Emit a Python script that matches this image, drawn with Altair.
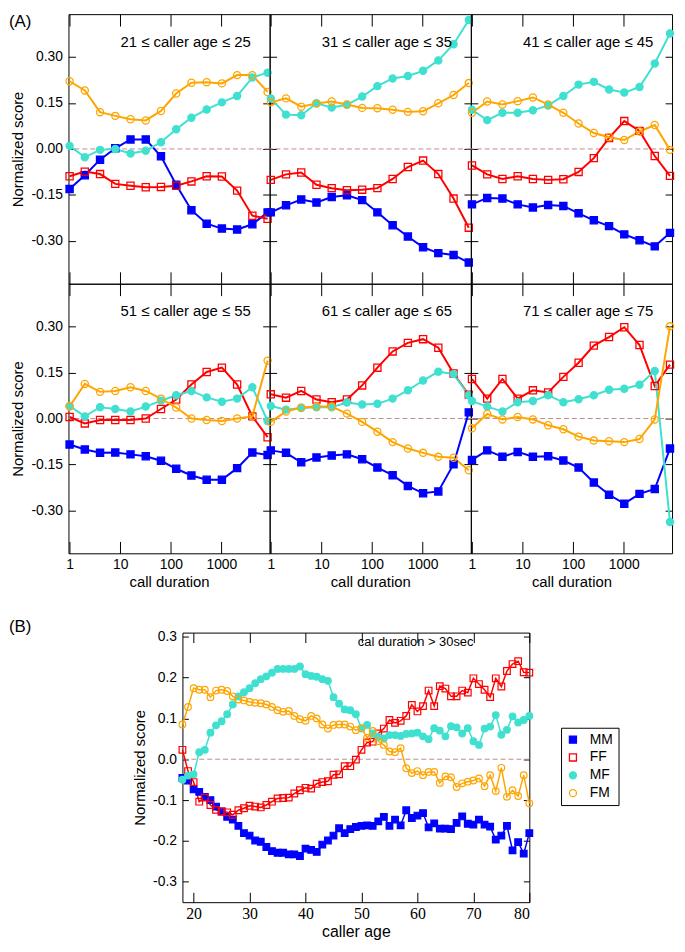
import altair as alt
import pandas as pd

# ---------------- data: part (A) ----------------
durations = [1, 2, 4, 8, 16, 32, 64, 128, 256, 512, 1024, 2048, 4096, 8192]
duration_ticks = [1, 10, 100, 1000]
score_ticks_A = [-0.30, -0.15, 0.0, 0.15, 0.30]
series_types = ["MM", "FF", "MF", "FM"]

panel_titles = [
    "21 \u2264 caller age \u2264 25",
    "31 \u2264 caller age \u2264 35",
    "41 \u2264 caller age \u2264 45",
    "51 \u2264 caller age \u2264 55",
    "61 \u2264 caller age \u2264 65",
    "71 \u2264 caller age \u2264 75",
]

a1_MM = [-0.131, -0.086, -0.035, 0.002, 0.031, 0.031, -0.024, -0.117, -0.200, -0.244, -0.260, -0.263, -0.246, -0.207]
a1_FF = [-0.089, -0.074, -0.082, -0.114, -0.120, -0.125, -0.124, -0.120, -0.106, -0.089, -0.090, -0.136, -0.218, -0.228]
a1_MF = [0.010, -0.027, -0.003, 0.000, -0.015, -0.006, 0.022, 0.064, 0.102, 0.129, 0.152, 0.173, 0.233, 0.249]
a1_FM = [0.221, 0.191, 0.120, 0.108, 0.097, 0.093, 0.124, 0.181, 0.216, 0.218, 0.214, 0.241, 0.241, 0.186]

a2_MM = [-0.207, -0.184, -0.165, -0.175, -0.157, -0.151, -0.167, -0.207, -0.249, -0.286, -0.321, -0.340, -0.346, -0.371]
a2_FF = [-0.101, -0.083, -0.077, -0.117, -0.128, -0.135, -0.133, -0.128, -0.098, -0.059, -0.038, -0.082, -0.162, -0.257]
a2_MF = [0.165, 0.112, 0.110, 0.149, 0.135, 0.144, 0.171, 0.205, 0.230, 0.238, 0.255, 0.289, 0.342, 0.421]
a2_FM = [0.152, 0.165, 0.138, 0.148, 0.155, 0.145, 0.134, 0.133, 0.128, 0.121, 0.123, 0.149, 0.176, 0.215]

a3_MM = [-0.181, -0.160, -0.162, -0.181, -0.191, -0.183, -0.186, -0.210, -0.233, -0.252, -0.279, -0.298, -0.318, -0.274]
a3_FF = [-0.054, -0.083, -0.098, -0.089, -0.098, -0.101, -0.099, -0.075, -0.030, 0.036, 0.091, 0.059, -0.023, -0.088]
a3_MF = [0.128, 0.094, 0.118, 0.118, 0.126, 0.142, 0.173, 0.210, 0.219, 0.194, 0.184, 0.202, 0.279, 0.377]
a3_FM = [0.118, 0.155, 0.145, 0.156, 0.168, 0.145, 0.118, 0.083, 0.052, 0.038, 0.029, 0.057, 0.078, -0.003]

a4_MM = [-0.085, -0.101, -0.112, -0.111, -0.117, -0.123, -0.138, -0.164, -0.186, -0.200, -0.200, -0.162, -0.111, -0.119]
a4_FF = [0.005, -0.016, -0.005, -0.005, -0.005, 0.000, 0.031, 0.062, 0.111, 0.152, 0.166, 0.111, 0.007, -0.061]
a4_MF = [0.041, 0.007, 0.037, 0.031, 0.023, 0.039, 0.058, 0.076, 0.090, 0.069, 0.055, 0.065, 0.102, -0.008]
a4_FM = [0.039, 0.113, 0.087, 0.090, 0.102, 0.090, 0.065, 0.036, 0.000, -0.005, -0.008, 0.000, 0.007, 0.189]

a5_MM = [-0.104, -0.112, -0.143, -0.127, -0.121, -0.117, -0.133, -0.160, -0.185, -0.220, -0.244, -0.238, -0.149, 0.020]
a5_FF = [0.079, 0.068, 0.090, 0.062, 0.053, 0.062, 0.108, 0.166, 0.219, 0.247, 0.259, 0.231, 0.147, 0.078]
a5_MF = [0.041, 0.029, 0.034, 0.037, 0.037, 0.052, 0.046, 0.048, 0.065, 0.092, 0.124, 0.153, 0.145, 0.076]
a5_FM = [-0.011, 0.023, 0.036, 0.039, 0.039, 0.016, -0.011, -0.043, -0.077, -0.098, -0.112, -0.125, -0.128, -0.169]

a6_MM = [-0.135, -0.104, -0.125, -0.109, -0.125, -0.123, -0.137, -0.160, -0.209, -0.249, -0.278, -0.246, -0.230, -0.098]
a6_FF = [0.129, 0.065, 0.129, 0.065, 0.092, 0.085, 0.136, 0.182, 0.238, 0.266, 0.298, 0.240, 0.106, 0.176]
a6_MF = [0.057, 0.039, 0.023, 0.053, 0.057, 0.076, 0.053, 0.063, 0.076, 0.094, 0.097, 0.110, 0.155, -0.338]
a6_FM = [-0.032, 0.015, -0.003, 0.005, -0.003, -0.022, -0.035, -0.059, -0.072, -0.074, -0.077, -0.067, -0.003, 0.301]

# ---------------- data: part (B) ----------------
ages = list(range(18, 81))
age_ticks = [20, 30, 40, 50, 60, 70, 80]
score_ticks_B = [-0.3, -0.2, -0.1, 0.0, 0.1, 0.2, 0.3]

b_MM = [-0.046, -0.052, -0.074, -0.080, -0.092, -0.100, -0.116, -0.128, -0.141, -0.148,
        -0.163, -0.181, -0.187, -0.199, -0.202, -0.215, -0.225, -0.229, -0.229, -0.233,
        -0.233, -0.237, -0.219, -0.222, -0.227, -0.209, -0.199, -0.187, -0.169, -0.181,
        -0.171, -0.166, -0.163, -0.162, -0.163, -0.152, -0.141, -0.163, -0.148, -0.162,
        -0.125, -0.144, -0.138, -0.132, -0.167, -0.157, -0.170, -0.170, -0.171, -0.156,
        -0.140, -0.158, -0.160, -0.148, -0.160, -0.165, -0.197, -0.187, -0.163, -0.223,
        -0.203, -0.231, -0.181]
b_FF = [0.023, -0.029, -0.056, -0.104, -0.094, -0.112, -0.124, -0.128, -0.130, -0.136,
        -0.125, -0.120, -0.114, -0.116, -0.118, -0.112, -0.104, -0.096, -0.095, -0.094,
        -0.084, -0.076, -0.070, -0.072, -0.060, -0.056, -0.054, -0.038, -0.037, -0.017,
        -0.017, -0.001, 0.023, 0.041, 0.043, 0.063, 0.075, 0.096, 0.089, 0.094,
        0.106, 0.133, 0.117, 0.130, 0.168, 0.130, 0.179, 0.173, 0.154, 0.154,
        0.168, 0.163, 0.198, 0.184, 0.170, 0.152, 0.198, 0.178, 0.216, 0.233,
        0.240, 0.213, 0.212]
b_MF = [-0.050, -0.040, -0.037, 0.017, 0.023, 0.065, 0.083, 0.093, 0.110, 0.134,
        0.154, 0.164, 0.174, 0.186, 0.196, 0.203, 0.212, 0.221, 0.221, 0.221,
        0.221, 0.227, 0.208, 0.204, 0.202, 0.196, 0.192, 0.152, 0.136, 0.122,
        0.120, 0.110, 0.075, 0.084, 0.063, 0.055, 0.051, 0.059, 0.059, 0.057,
        0.062, 0.063, 0.065, 0.056, 0.049, 0.076, 0.070, 0.056, 0.081, 0.078,
        0.063, 0.076, 0.044, 0.035, 0.075, 0.080, 0.108, 0.060, 0.072, 0.105,
        0.090, 0.096, 0.106]
b_FM = [0.085, 0.128, 0.174, 0.170, 0.170, 0.152, 0.168, 0.170, 0.167, 0.154,
        0.146, 0.144, 0.140, 0.138, 0.137, 0.134, 0.128, 0.120, 0.116, 0.118,
        0.106, 0.098, 0.094, 0.106, 0.100, 0.085, 0.075, 0.084, 0.085, 0.085,
        0.080, 0.071, 0.076, 0.052, 0.069, 0.044, 0.035, 0.019, 0.017, 0.027,
        -0.022, -0.034, -0.029, -0.039, -0.031, -0.031, -0.058, -0.042, -0.044, -0.068,
        -0.059, -0.055, -0.052, -0.047, -0.066, -0.039, -0.078, -0.021, -0.092, -0.076,
        -0.090, -0.039, -0.108]

# ---------------- styles ----------------
COLORS = ["#0000ff", "#ff0000", "#40e0d0", "#ffa500"]
FILLS = ["#0000ff", "transparent", "#40e0d0", "transparent"]
SHAPES = ["square", "square", "circle", "circle"]
ZERO_COLOR = "#c48b8b"
SANS = "Liberation Sans"
SERIF = "Liberation Serif"

A_W, A_H = 203, 272
B_W, B_H = 350, 272
NBSP = "\u00a0"


def long_df(xs, xname, arrays):
    rows = []
    for t, arr in zip(series_types, arrays):
        for x, v in zip(xs, arr):
            rows.append({xname: x, "type": t, "value": v})
    return pd.DataFrame(rows)


# line colours use the reversed domain so their (hidden) legend never merges
line_color_scale = alt.Scale(domain=series_types[::-1], range=COLORS[::-1])
color_scale = alt.Scale(domain=series_types, range=COLORS)
fill_scale = alt.Scale(domain=series_types, range=FILLS)
shape_scale = alt.Scale(domain=series_types, range=SHAPES)

labA = "datum.value < 0 ? '-' + format(-datum.value, '.2f') : format(datum.value, '.2f')"
labB = "datum.value < 0 ? '-' + format(-datum.value, '.1f') : format(datum.value, '.1f')"


def make_panel(idx, arrays):
    row, col = idx // 3, idx % 3
    df = long_df(durations, "dur", arrays)
    xs = alt.Scale(type="log", domain=[0.95, 9000], nice=False)
    ys = alt.Scale(domain=[-0.44, 0.44], nice=False, zero=False)

    ax_bottom = alt.Axis(orient="bottom", values=duration_ticks, format="d",
                         labels=(row == 1), title=("call duration" if row == 1 else None),
                         tickSize=12, offset=-12, domain=False, labelPadding=4,
                         titlePadding=3, labelFontSize=14, titleFontSize=15,
                         minExtent=0)
    ax_left = alt.Axis(orient="left", values=score_ticks_A, labelExpr=labA,
                       labels=(col == 0), title=("Normalized score" if col == 0 else None),
                       tickSize=7, offset=-7, domain=False, labelPadding=6,
                       titlePadding=5, labelFontSize=14, titleFontSize=15, minExtent=0)
    ax_top = alt.Axis(orient="top", values=duration_ticks, labels=False, title=None,
                      tickSize=12, offset=-12, domain=False, minExtent=0)
    ax_right = alt.Axis(orient="right", values=score_ticks_A, labels=False, title=None,
                        tickSize=7, offset=-7, domain=False, minExtent=0)

    zero = alt.Chart(pd.DataFrame({"z": [0.0]})).mark_rule(
        color=ZERO_COLOR, strokeDash=[5, 3], strokeWidth=1
    ).encode(y=alt.Y("z:Q", scale=ys, axis=None))

    base = alt.Chart(df)
    lines = base.mark_line(strokeWidth=2).encode(
        x=alt.X("dur:Q", scale=xs, axis=ax_bottom),
        y=alt.Y("value:Q", scale=ys, axis=ax_left),
        color=alt.Color("type:N", scale=line_color_scale, legend=None),
    )
    points = base.mark_point(opacity=1, size=52, strokeWidth=1.3).encode(
        x=alt.X("dur:Q", scale=xs, axis=ax_top),
        y=alt.Y("value:Q", scale=ys, axis=ax_right),
        shape=alt.Shape("type:N", scale=shape_scale, legend=None),
        stroke=alt.Stroke("type:N", scale=color_scale, legend=None),
        fill=alt.Fill("type:N", scale=fill_scale, legend=None),
    )
    title = alt.Chart(pd.DataFrame({"t": [panel_titles[idx]]})).mark_text(
        align="right", baseline="middle", fontSize=15, font=SANS, color="black"
    ).encode(text="t:N", x=alt.value(184), y=alt.value(28))

    layers = [zero, lines, points, title]
    if idx == 0:
        tag = alt.Chart(pd.DataFrame({"t": ["(A)"]})).mark_text(
            align="left", baseline="middle", fontSize=17, font=SANS, color="black"
        ).encode(text="t:N", x=alt.value(-60), y=alt.value(8))
        layers.append(tag)

    return alt.layer(*layers).resolve_axis(x="independent", y="independent").properties(
        width=A_W, height=A_H
    )


panel_data = [
    [a1_MM, a1_FF, a1_MF, a1_FM],
    [a2_MM, a2_FF, a2_MF, a2_FM],
    [a3_MM, a3_FF, a3_MF, a3_FM],
    [a4_MM, a4_FF, a4_MF, a4_FM],
    [a5_MM, a5_FF, a5_MF, a5_FM],
    [a6_MM, a6_FF, a6_MF, a6_FM],
]
panels = [make_panel(i, d) for i, d in enumerate(panel_data)]
grid_A = alt.concat(*panels, columns=3, spacing=0, bounds="flush").resolve_scale(
    color="independent", stroke="independent", fill="independent", shape="independent"
)

# ---------------- part (B) ----------------
dfB = long_df(ages, "age", [b_MM, b_FF, b_MF, b_FM])
xsB = alt.Scale(domain=[18, 80], nice=False, zero=False)
ysB = alt.Scale(domain=[-0.35, 0.31], nice=False, zero=False)

axB_bottom = alt.Axis(orient="bottom", values=age_ticks, format="d", title="caller age",
                      tickSize=10, offset=-10, domain=False, labelPadding=3,
                      titlePadding=3, labelFont=SERIF, labelFontSize=16, titleFontSize=16,
                      minExtent=0)
axB_left = alt.Axis(orient="left", values=score_ticks_B, labelExpr=labB,
                    title="Normalized score", tickSize=6, offset=-6, domain=False,
                    labelPadding=6, titlePadding=5, labelFontSize=14, titleFontSize=15,
                    minExtent=0)
axB_top = alt.Axis(orient="top", values=age_ticks, labels=False, title=None,
                   tickSize=10, offset=-10, domain=False, minExtent=0)
axB_right = alt.Axis(orient="right", values=score_ticks_B, labels=False, title=None,
                     tickSize=6, offset=-6, domain=False, minExtent=0)

legB = alt.Legend(orient="none", legendX=382, legendY=96, title=None,
                  strokeColor="black", padding=5, symbolSize=50, symbolStrokeWidth=1.3,
                  labelFontSize=14, labelFont=SANS, rowPadding=4, labelOffset=10,
                  labelExpr="datum.label + '" + NBSP * 9 + "'")

zeroB = alt.Chart(pd.DataFrame({"z": [0.0]})).mark_rule(
    color=ZERO_COLOR, strokeDash=[5, 3], strokeWidth=1
).encode(y=alt.Y("z:Q", scale=ysB, axis=None))
baseB = alt.Chart(dfB)
linesB = baseB.mark_line(strokeWidth=1.5).encode(
    x=alt.X("age:Q", scale=xsB, axis=axB_bottom),
    y=alt.Y("value:Q", scale=ysB, axis=axB_left),
    color=alt.Color("type:N", scale=line_color_scale, legend=None),
)
pointsB = baseB.mark_point(opacity=1, size=45, strokeWidth=1.2).encode(
    x=alt.X("age:Q", scale=xsB, axis=axB_top),
    y=alt.Y("value:Q", scale=ysB, axis=axB_right),
    shape=alt.Shape("type:N", scale=shape_scale, legend=legB),
    stroke=alt.Stroke("type:N", scale=color_scale, legend=legB),
    fill=alt.Fill("type:N", scale=fill_scale, legend=legB),
)
noteB = alt.Chart(pd.DataFrame({"t": ["cal duration > 30sec"]})).mark_text(
    align="left", baseline="middle", fontSize=13, font=SANS, color="black"
).encode(text="t:N", x=alt.value(177), y=alt.value(10))

chart_B = alt.layer(zeroB, linesB, pointsB, noteB).resolve_axis(
    x="independent", y="independent"
).properties(width=B_W, height=B_H)

spacer = alt.Chart(pd.DataFrame({"t": ["(B)"]})).mark_text(
    align="left", baseline="middle", fontSize=17, font=SANS, color="black"
).encode(text="t:N", x=alt.value(-60), y=alt.value(-6)).properties(
    width=63, height=B_H, view=alt.ViewBackground(stroke="transparent")
)

row_B = alt.hconcat(spacer, chart_B, spacing=0).resolve_scale(
    color="independent", stroke="independent", fill="independent", shape="independent"
)

chart = alt.vconcat(grid_A, row_B, spacing=27).resolve_scale(
    color="independent", stroke="independent", fill="independent", shape="independent"
).properties(padding=0).configure_view(
    stroke="black", strokeWidth=1
).configure_axis(
    grid=False, labelFont=SANS, titleFont=SANS, labelColor="black", titleColor="black",
    tickColor="black", tickWidth=1, titleFontWeight="normal"
).configure_text(font=SANS)

chart.save("out.html", embed_options={"renderer": "svg", "actions": False})
